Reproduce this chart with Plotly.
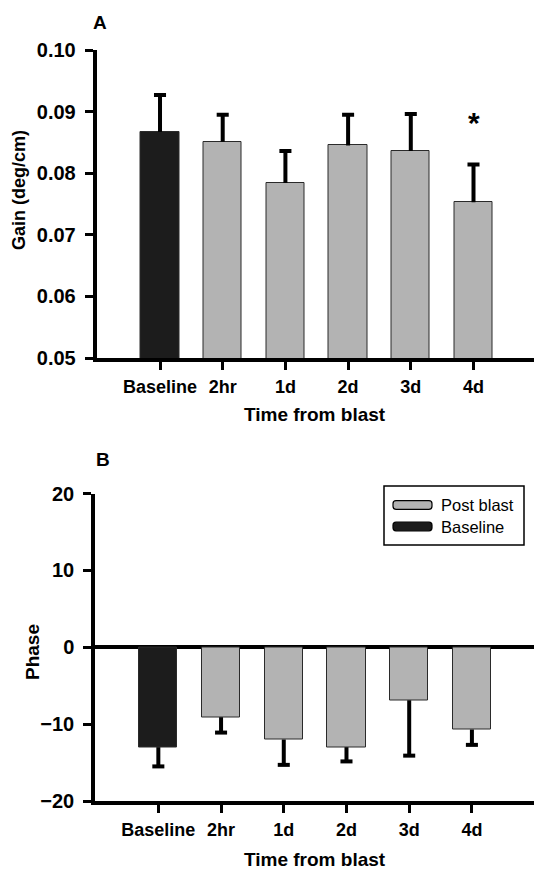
import plotly.graph_objects as go

# ---- data ----
time_points = ["Baseline", "2hr", "1d", "2d", "3d", "4d"]
groups = ["Baseline", "Post blast", "Post blast", "Post blast", "Post blast", "Post blast"]
gain_mean = [0.0867, 0.0851, 0.0784, 0.0845, 0.0836, 0.0753]
gain_sem = [0.0060, 0.0044, 0.0052, 0.0050, 0.0060, 0.0061]
phase_mean = [-13.0, -9.1, -12.0, -13.0, -6.9, -10.7]
phase_sem = [2.5, 2.0, 3.3, 1.85, 7.2, 2.0]
gain_ticks = [0.05, 0.06, 0.07, 0.08, 0.09, 0.10]
phase_ticks = [-20, -10, 0, 10, 20]
significant = ["4d"]

# ---- style ----
W, H = 534, 872
FONT = "Liberation Sans, Arial, Helvetica, sans-serif"
GROUP_COLORS = {"Baseline": "#1c1c1c", "Post blast": "#b3b3b3"}
bar_colors = [GROUP_COLORS[g] for g in groups]


def px(x):
    return x / W


def py(y):
    return 1 - y / H


fig = go.Figure()

# panel A: gain
fig.add_trace(go.Bar(
    x=time_points, y=gain_mean, width=0.61,
    marker=dict(color=bar_colors, line=dict(color="#2a2a2a", width=1)),
    error_y=dict(type="data", symmetric=False, array=gain_sem,
                 arrayminus=[0] * len(gain_sem), width=0, thickness=4, color="black"),
    xaxis="x", yaxis="y", showlegend=False, hoverinfo="skip",
))
fig.add_trace(go.Scatter(
    x=time_points, y=[m + e for m, e in zip(gain_mean, gain_sem)], mode="markers",
    marker=dict(symbol="line-ew", size=8.6, line=dict(color="black", width=4)),
    xaxis="x", yaxis="y", showlegend=False, hoverinfo="skip",
))

# panel B: phase
fig.add_trace(go.Bar(
    x=time_points, y=phase_mean, width=0.61,
    marker=dict(color=bar_colors, line=dict(color="#2a2a2a", width=1)),
    error_y=dict(type="data", symmetric=False, array=[0] * len(phase_sem),
                 arrayminus=phase_sem, width=0, thickness=4, color="black"),
    xaxis="x2", yaxis="y2", showlegend=False, hoverinfo="skip",
))
fig.add_trace(go.Scatter(
    x=time_points, y=[m - e for m, e in zip(phase_mean, phase_sem)], mode="markers",
    marker=dict(symbol="line-ew", size=8.6, line=dict(color="black", width=4)),
    xaxis="x2", yaxis="y2", showlegend=False, hoverinfo="skip",
))

axis_common = dict(
    showline=True, linecolor="black", linewidth=3.5, mirror=False,
    showgrid=False, ticks="outside", ticklen=8, tickwidth=3, tickcolor="black",
    tickfont=dict(family=FONT, size=18, color="black", weight="bold"),
    automargin=False, fixedrange=True,
)

fig.update_layout(
    width=W, height=H, autosize=False,
    margin=dict(l=0, r=0, t=0, b=0),
    paper_bgcolor="white", plot_bgcolor="white",
    bargap=0,
    xaxis=dict(axis_common, domain=[px(96.5), 1], range=[-1.013, 5.965],
               type="category", anchor="y", ticklabelstandoff=2),
    yaxis=dict(axis_common, domain=[py(358), py(50)], range=[0.05, 0.10],
               tickvals=gain_ticks, tickformat=".2f", zeroline=False, anchor="x",
               tickfont=dict(family=FONT, size=20, color="black", weight="bold"),
               ticklabelstandoff=5),
    xaxis2=dict(axis_common, domain=[px(95), 1], range=[-1.01, 5.99],
                type="category", anchor="y2", ticklabelstandoff=2),
    yaxis2=dict(axis_common, domain=[py(801), py(493.5)], range=[-20, 20],
                tickvals=phase_ticks, zeroline=True, zerolinecolor="black",
                zerolinewidth=3.5, anchor="x2",
                tickfont=dict(family=FONT, size=20, color="black", weight="bold"),
                ticklabelstandoff=5),
)

annotations = []


def label(text, x, y, size, angle=0, weight="bold"):
    annotations.append(dict(
        text=text, x=px(x), y=py(y), xref="paper", yref="paper",
        xanchor="center", yanchor="middle", showarrow=False, textangle=angle,
        font=dict(family=FONT, size=size, color="black", weight=weight),
    ))


# panel letters and axis titles
label("A", 100, 22, 19)
label("B", 103, 460, 19)
label("Gain (deg/cm)", 19, 190, 18, angle=-90)
label("Phase", 32, 652, 19, angle=-90)
label("Time from blast", 315, 414, 19)
label("Time from blast", 315, 859, 19)

# significance marker above the flagged bars
for tp in significant:
    i = time_points.index(tp)
    annotations.append(dict(
        text="*", x=tp, y=gain_mean[i] + gain_sem[i], xref="x", yref="y",
        yanchor="bottom", yshift=24, showarrow=False,
        font=dict(family=FONT, size=30, color="black", weight="bold"),
    ))

# legend for panel B
shapes = [dict(type="rect", xref="paper", yref="paper",
               x0=px(384), x1=px(524), y0=py(545), y1=py(486),
               line=dict(color="black", width=1.5), fillcolor="white", layer="above")]


def swatch(x0, x1, y0, y1, r, color):
    path = (f"M {px(x0 + r)},{py(y0)} L {px(x1 - r)},{py(y0)} "
            f"Q {px(x1)},{py(y0)} {px(x1)},{py(y0 + r)} "
            f"L {px(x1)},{py(y1 - r)} Q {px(x1)},{py(y1)} {px(x1 - r)},{py(y1)} "
            f"L {px(x0 + r)},{py(y1)} Q {px(x0)},{py(y1)} {px(x0)},{py(y1 - r)} "
            f"L {px(x0)},{py(y0 + r)} Q {px(x0)},{py(y0)} {px(x0 + r)},{py(y0)} Z")
    return dict(type="path", xref="paper", yref="paper", path=path,
                fillcolor=color, line=dict(color="black", width=1.2), layer="above")


legend_entries = ["Post blast", "Baseline"]
for k, name in enumerate(legend_entries):
    yc = 505 + 21.5 * k
    shapes.append(swatch(393, 432, yc - 4.3, yc + 4.3, 3, GROUP_COLORS[name]))
    annotations.append(dict(
        text=name, x=px(439), y=py(yc), xref="paper", yref="paper",
        xanchor="left", yanchor="middle", showarrow=False,
        font=dict(family=FONT, size=16.5, color="black"),
    ))

fig.update_layout(annotations=annotations, shapes=shapes)

fig.write_html("out.html")
